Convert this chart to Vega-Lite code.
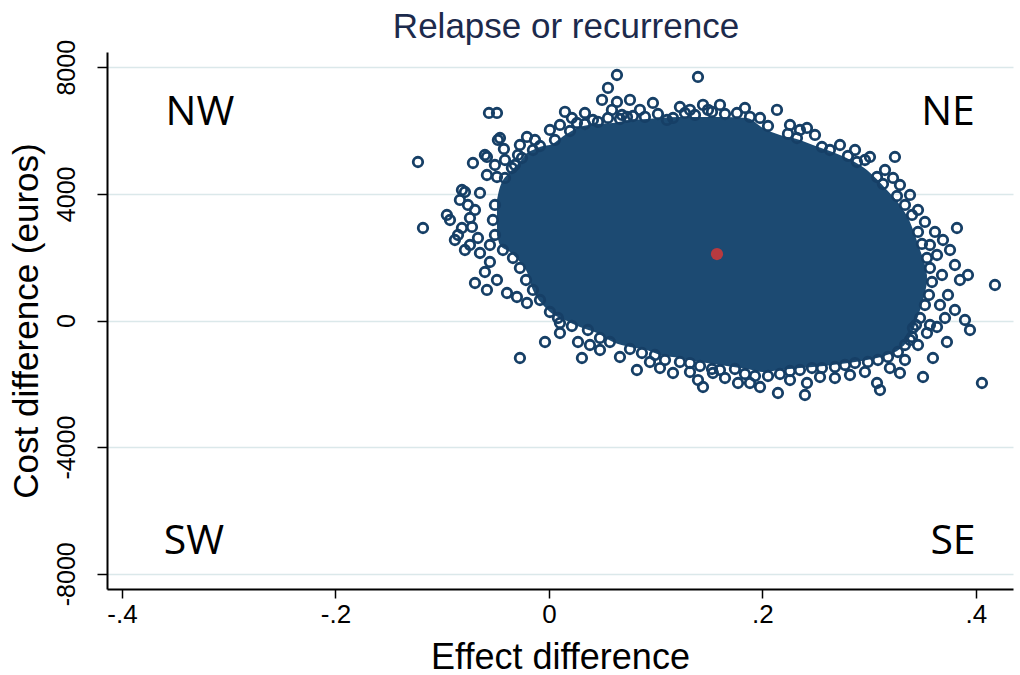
{
  "$schema": "https://vega.github.io/schema/vega-lite/v6.json",
  "autosize": "none",
  "width": 906,
  "height": 537,
  "padding": {"left": 107, "top": 52, "right": 7, "bottom": 86},
  "background": "white",
  "config": {"view": {"stroke": null}},
  "title": {"text": "Relapse or recurrence", "font": "Liberation Sans", "fontSize": 35, "fontWeight": "normal", "color": "#1c2a4c", "anchor": "middle", "frame": "group", "offset": -41, "baseline": "bottom", "dx": 6},
  "datasets": {
    "env": [
      {"e": -0.0487, "hi": 3807, "lo": 2701},
      {"e": -0.0459, "hi": 4217, "lo": 2385},
      {"e": -0.0365, "hi": 4691, "lo": 2164},
      {"e": -0.0272, "hi": 5007, "lo": 1848},
      {"e": -0.0206, "hi": 5291, "lo": 1532},
      {"e": -0.015, "hi": 5386, "lo": 964},
      {"e": -0.0056, "hi": 5512, "lo": 490},
      {"e": 0.0009, "hi": 5544, "lo": 269},
      {"e": 0.015, "hi": 5860, "lo": 16},
      {"e": 0.029, "hi": 6113, "lo": -205},
      {"e": 0.045, "hi": 6207, "lo": -395},
      {"e": 0.06, "hi": 6239, "lo": -679},
      {"e": 0.0759, "hi": 6334, "lo": -837},
      {"e": 0.0918, "hi": 6365, "lo": -932},
      {"e": 0.104, "hi": 6397, "lo": -1090},
      {"e": 0.1227, "hi": 6429, "lo": -1185},
      {"e": 0.1415, "hi": 6429, "lo": -1311},
      {"e": 0.1602, "hi": 6429, "lo": -1406},
      {"e": 0.1855, "hi": 6397, "lo": -1532},
      {"e": 0.2005, "hi": 6081, "lo": -1627},
      {"e": 0.2164, "hi": 5860, "lo": -1564},
      {"e": 0.2351, "hi": 5702, "lo": -1501},
      {"e": 0.2473, "hi": 5544, "lo": -1469},
      {"e": 0.2726, "hi": 5228, "lo": -1374},
      {"e": 0.2979, "hi": 4754, "lo": -1248},
      {"e": 0.3166, "hi": 4122, "lo": -1090},
      {"e": 0.3288, "hi": 3649, "lo": -900},
      {"e": 0.3382, "hi": 3112, "lo": -521},
      {"e": 0.3476, "hi": 2227, "lo": 332},
      {"e": 0.3522, "hi": 1753, "lo": 869},
      {"e": 0.3541, "hi": 1437, "lo": 1185}
    ],
    "pts": [
      {"e": -0.1227, "c": 5007}, {"e": -0.118, "c": 2922}, {"e": -0.0562, "c": 6555}, {"e": -0.0487, "c": 6555},
      {"e": -0.0478, "c": 5702}, {"e": -0.0422, "c": 5418}, {"e": -0.0712, "c": 4975}, {"e": -0.0581, "c": 5165},
      {"e": -0.0787, "c": 4059}, {"e": -0.0646, "c": 4028}, {"e": -0.0581, "c": 4596}, {"e": -0.0487, "c": 4533},
      {"e": -0.029, "c": 5228}, {"e": -0.0206, "c": 5797}, {"e": 0.0009, "c": 6018}, {"e": 0.015, "c": 6587},
      {"e": 0.0497, "c": 6966}, {"e": 0.0553, "c": 7345}, {"e": 0.0637, "c": 7755}, {"e": 0.0637, "c": 6902},
      {"e": 0.0759, "c": 6966}, {"e": 0.0974, "c": 6871}, {"e": 0.0684, "c": 6492}, {"e": 0.0731, "c": 6429},
      {"e": 0.1105, "c": 6334}, {"e": 0.1162, "c": 6397}, {"e": 0.0262, "c": 6239}, {"e": 0.0412, "c": 6334},
      {"e": -0.0459, "c": 5765}, {"e": -0.06, "c": 5228}, {"e": -0.0815, "c": 4122}, {"e": -0.0956, "c": 3333},
      {"e": -0.0927, "c": 3175}, {"e": -0.074, "c": 3238}, {"e": -0.0852, "c": 2701}, {"e": -0.0721, "c": 2954},
      {"e": -0.0646, "c": 2132}, {"e": -0.06, "c": 1532}, {"e": -0.0693, "c": 1185}, {"e": -0.0393, "c": 869},
      {"e": -0.03, "c": 742}, {"e": -0.0206, "c": 553},
      {"e": -0.0037, "c": -679}, {"e": -0.0272, "c": -1185}, {"e": 0.0272, "c": -679}, {"e": 0.0309, "c": -1185},
      {"e": 0.0665, "c": -1153}, {"e": 0.0824, "c": -1564}, {"e": 0.1162, "c": -1658}, {"e": 0.0103, "c": -79},
      {"e": 0.1396, "c": 7692}, {"e": 0.1443, "c": 6808}, {"e": 0.149, "c": 6650}, {"e": 0.1977, "c": 6397},
      {"e": 0.2136, "c": 6650}, {"e": 0.2417, "c": 6081}, {"e": 0.2492, "c": 5860}, {"e": 0.3007, "c": 5165},
      {"e": 0.3241, "c": 5165}, {"e": 0.3223, "c": 4502},
      {"e": 0.3822, "c": 2922}, {"e": 0.3925, "c": 1437}, {"e": 0.4178, "c": 1121}, {"e": 0.3944, "c": -300},
      {"e": 0.3728, "c": -679}, {"e": 0.3597, "c": -1185}, {"e": 0.3504, "c": -1785}, {"e": 0.4056, "c": -1974},
      {"e": 0.2398, "c": -2353}, {"e": 0.2145, "c": -2290}, {"e": 0.3101, "c": -2196}, {"e": 0.1443, "c": -2101},
      {"e": 0.1396, "c": -1880}, {"e": 0.1771, "c": -1974}, {"e": 0.1977, "c": -2101}, {"e": 0.2417, "c": -1974},
      {"e": 0.2679, "c": -1816}, {"e": 0.3073, "c": -1974}, {"e": 0.3288, "c": -1658}, {"e": 0.3541, "c": -395},
      {"e": 0.3635, "c": -205}, {"e": 0.1536, "c": -1658},
      {"e": 0.3616, "c": 2796}, {"e": 0.3691, "c": 2543}, {"e": 0.3757, "c": 2227}, {"e": 0.3635, "c": 2069},
      {"e": 0.3803, "c": 1753}, {"e": 0.3682, "c": 1437}, {"e": 0.385, "c": 1279}, {"e": 0.3738, "c": 806},
      {"e": 0.3663, "c": 490}, {"e": 0.3803, "c": 332}, {"e": 0.371, "c": 79}, {"e": 0.3569, "c": -142},
      {"e": 0.3897, "c": 16},
      {"e": -0.0412, "c": 4502}, {"e": -0.0319, "c": 4912}, {"e": -0.0253, "c": 5133}, {"e": -0.015, "c": 5386},
      {"e": -0.0084, "c": 5512}, {"e": 0.0056, "c": 5702}, {"e": 0.0197, "c": 5986}, {"e": 0.0337, "c": 6207},
      {"e": 0.0459, "c": 6271}, {"e": 0.0553, "c": 6397}, {"e": 0.0665, "c": 6365}, {"e": 0.0787, "c": 6460},
      {"e": 0.0899, "c": 6429}, {"e": 0.1021, "c": 6523}, {"e": 0.1274, "c": 6555}, {"e": 0.1368, "c": 6492},
      {"e": 0.1527, "c": 6587}, {"e": 0.1649, "c": 6523}, {"e": 0.1761, "c": 6555}, {"e": 0.1883, "c": 6429},
      {"e": 0.2052, "c": 6144}, {"e": 0.2239, "c": 5892}, {"e": 0.2323, "c": 5765}, {"e": 0.2557, "c": 5481},
      {"e": 0.2632, "c": 5386}, {"e": 0.2801, "c": 5197}, {"e": 0.2885, "c": 5007}, {"e": 0.3073, "c": 4533},
      {"e": 0.3129, "c": 4312}, {"e": 0.326, "c": 3933}, {"e": 0.3335, "c": 3649}, {"e": 0.3401, "c": 3333},
      {"e": 0.3457, "c": 2796}, {"e": 0.3494, "c": 2417}, {"e": 0.3541, "c": 1974},
      {"e": 0.3569, "c": 1658}, {"e": 0.3588, "c": 1216}, {"e": 0.356, "c": 806}, {"e": 0.3522, "c": 490},
      {"e": 0.3476, "c": 79}, {"e": 0.341, "c": -237}, {"e": 0.3382, "c": -616},
      {"e": -0.0431, "c": 2227}, {"e": -0.0337, "c": 1974}, {"e": -0.0272, "c": 1658}, {"e": -0.0215, "c": 1279},
      {"e": -0.015, "c": 964}, {"e": -0.0084, "c": 648}, {"e": 0.0009, "c": 269}, {"e": 0.0084, "c": 79},
      {"e": 0.0215, "c": -174}, {"e": 0.0365, "c": -300}, {"e": 0.0478, "c": -553}, {"e": 0.0571, "c": -679},
      {"e": 0.0759, "c": -900}, {"e": 0.0871, "c": -1027}, {"e": 0.0993, "c": -1090}, {"e": 0.1087, "c": -1248},
      {"e": 0.1227, "c": -1311}, {"e": 0.1321, "c": -1343}, {"e": 0.1415, "c": -1437}, {"e": 0.1527, "c": -1532},
      {"e": 0.1602, "c": -1564}, {"e": 0.1742, "c": -1532}, {"e": 0.1836, "c": -1690}, {"e": 0.193, "c": -1753},
      {"e": 0.2052, "c": -1753}, {"e": 0.2164, "c": -1690}, {"e": 0.2258, "c": -1595}, {"e": 0.2351, "c": -1564},
      {"e": 0.2464, "c": -1501}, {"e": 0.2557, "c": -1501}, {"e": 0.2679, "c": -1469}, {"e": 0.2773, "c": -1406},
      {"e": 0.2867, "c": -1343}, {"e": 0.2988, "c": -1311}, {"e": 0.3082, "c": -1248}, {"e": 0.3176, "c": -1153},
      {"e": 0.3269, "c": -995}, {"e": 0.3335, "c": -774}, {"e": 0.3401, "c": -521}, {"e": 0.3438, "c": -142},
      {"e": -0.0506, "c": 3649}, {"e": -0.0525, "c": 3175}, {"e": -0.0506, "c": 2701},
      {"e": -0.0834, "c": 3807}, {"e": -0.0759, "c": 3649}, {"e": -0.0693, "c": 3491}, {"e": -0.0815, "c": 2922},
      {"e": -0.0665, "c": 2606}, {"e": -0.074, "c": 2385}, {"e": -0.0553, "c": 1848}, {"e": -0.0487, "c": 1279},
      {"e": -0.0581, "c": 964}, {"e": -0.0881, "c": 2543}, {"e": -0.0787, "c": 2227}, {"e": -0.0553, "c": 2385},
      {"e": -0.0412, "c": 5070}, {"e": -0.0347, "c": 4817}, {"e": -0.0506, "c": 4912}, {"e": -0.0272, "c": 5544},
      {"e": -0.0131, "c": 5702}, {"e": 0.0103, "c": 6176}, {"e": 0.0215, "c": 6397}, {"e": 0.0337, "c": 6555},
      {"e": 0.059, "c": 6650}, {"e": 0.0852, "c": 6650}, {"e": 0.1227, "c": 6744}, {"e": 0.1321, "c": 6650},
      {"e": 0.1602, "c": 6808}, {"e": 0.1836, "c": 6713}, {"e": 0.2258, "c": 6176}, {"e": 0.2351, "c": 6018},
      {"e": 0.2726, "c": 5544}, {"e": 0.2867, "c": 5386}, {"e": 0.296, "c": 5070}, {"e": 0.3148, "c": 4754},
      {"e": 0.3288, "c": 4280}, {"e": 0.3382, "c": 3965}, {"e": 0.3457, "c": 3491}, {"e": 0.3522, "c": 3112},
      {"e": 0.3569, "c": 2385},
      {"e": 0.0103, "c": -395}, {"e": 0.0384, "c": -774}, {"e": 0.0478, "c": -932}, {"e": 0.0946, "c": -1311},
      {"e": 0.104, "c": -1501}, {"e": 0.1321, "c": -1627}, {"e": 0.1649, "c": -1816}, {"e": 0.1883, "c": -1974},
      {"e": 0.2258, "c": -1880}, {"e": 0.2539, "c": -1785}, {"e": 0.282, "c": -1722}, {"e": 0.296, "c": -1627},
      {"e": 0.3194, "c": -1501}, {"e": 0.3335, "c": -1248}, {"e": 0.3457, "c": -774}
    ],
    "mean": [{"e": 0.1574, "c": 2100}],
    "quad": [
      {"e": -0.3269, "c": 6555, "label": "NW"},
      {"e": 0.3738, "c": 6555, "label": "NE"},
      {"e": -0.3326, "c": -6997, "label": "SW"},
      {"e": 0.3785, "c": -6997, "label": "SE"}
    ]
  },
  "encoding": {
    "x": {"field": "e", "type": "quantitative", "scale": {"domain": [-0.414, 0.4347], "nice": false, "zero": false},
      "axis": {"values": [-0.4, -0.2, 0, 0.2, 0.4], "labelExpr": "datum.value == 0 ? '0' : (datum.value < 0 ? '-' : '') + '.' + round(abs(datum.value) * 10)",
        "grid": false, "tickSize": 9, "tickWidth": 1.5, "tickColor": "#000", "domainColor": "#000", "domainWidth": 2,
        "labelFont": "Liberation Sans", "labelFontSize": 26, "labelColor": "#000", "labelPadding": 24, "labelBaseline": "alphabetic",
        "title": "Effect difference", "titleFont": "Liberation Sans", "titleFontSize": 36, "titleFontWeight": "normal", "titleColor": "#000", "titlePadding": 13}},
    "y": {"field": "c", "type": "quantitative", "scale": {"domain": [-8481, 8481], "nice": false, "zero": false},
      "axis": {"values": [-8000, -4000, 0, 4000, 8000], "labelExpr": "datum.value < 0 ? '-' + abs(datum.value) : '' + datum.value",
        "grid": true, "gridColor": "#dbe8ea", "gridWidth": 1.5, "tickSize": 10, "tickWidth": 1.5, "tickColor": "#000", "domainColor": "#000", "domainWidth": 2,
        "labelAngle": -90, "labelAlign": "center", "labelBaseline": "alphabetic", "labelPadding": 23,
        "labelFont": "Liberation Sans", "labelFontSize": 25, "labelColor": "#000",
        "title": "Cost difference (euros)", "titleFont": "Liberation Sans", "titleFontSize": 35, "titleFontWeight": "normal", "titleColor": "#000", "titlePadding": 17, "titleBaseline": "alphabetic"}}
  },
  "layer": [
    {"mark": {"type": "rule", "color": "#c8102e", "strokeWidth": 2}, "encoding": {"x": {"datum": 0}, "y": null}},
    {"mark": {"type": "rule", "color": "#c8102e", "strokeWidth": 2}, "encoding": {"y": {"datum": 0}, "x": null}},
    {"data": {"name": "env"}, "mark": {"type": "area", "color": "#1c4a72", "interpolate": "monotone", "opacity": 1},
      "encoding": {"x": {"field": "e", "type": "quantitative"}, "y": {"field": "hi", "type": "quantitative"}, "y2": {"field": "lo"}}},
    {"data": {"name": "pts"}, "mark": {"type": "point", "shape": "circle", "filled": false, "size": 90, "strokeWidth": 2.8, "color": "#163f66", "opacity": 1}},
    {"data": {"name": "mean"}, "mark": {"type": "point", "shape": "circle", "filled": true, "size": 150, "color": "#b83a3f", "opacity": 1}},
    {"data": {"name": "quad"}, "mark": {"type": "text", "font": "Open Sans", "fontSize": 41, "color": "#000", "align": "center", "baseline": "middle"},
      "encoding": {"text": {"field": "label"}}}
  ]
}
